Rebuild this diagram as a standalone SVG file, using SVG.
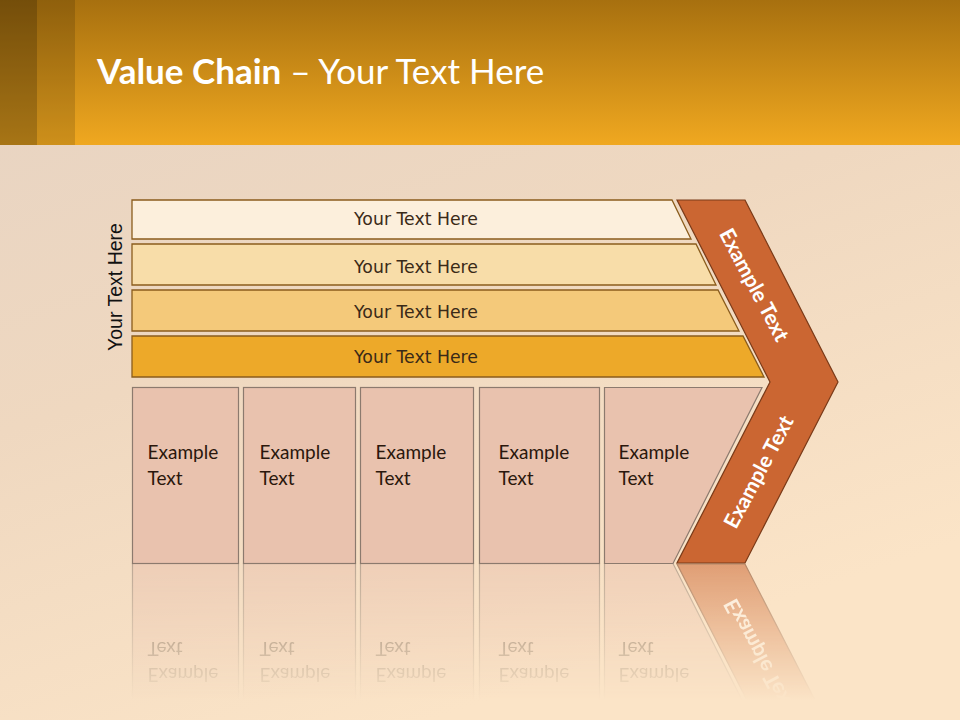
<svg xmlns="http://www.w3.org/2000/svg" xmlns:xlink="http://www.w3.org/1999/xlink" width="960" height="720" viewBox="0 0 960 720">
  <defs>
    <linearGradient id="bg" x1="0" y1="0" x2="0.45" y2="1">
      <stop offset="0" stop-color="#e6d3c3"/>
      <stop offset="0.5" stop-color="#efd8c0"/>
      <stop offset="1" stop-color="#fbe4c7"/>
    </linearGradient>
    <linearGradient id="hdr" x1="0" y1="0" x2="0" y2="1">
      <stop offset="0" stop-color="#a7700f"/>
      <stop offset="1" stop-color="#f0a820"/>
    </linearGradient>
    <linearGradient id="fadeGrad" gradientUnits="userSpaceOnUse" x1="0" y1="563" x2="0" y2="700">
      <stop offset="0" stop-color="#fff" stop-opacity="0.55"/>
      <stop offset="1" stop-color="#fff" stop-opacity="0"/>
    </linearGradient>
    <mask id="fade" maskUnits="userSpaceOnUse" x="0" y="563" width="960" height="157">
      <rect x="0" y="563" width="960" height="157" fill="url(#fadeGrad)"/>
    </mask>
    <style>
      .bar { stroke: #8a5c1c; stroke-width: 1.3; }
      .bartxt { font-family: "DejaVu Sans", Verdana, sans-serif; font-size: 17.3px; fill: #3a2a18; text-anchor: middle; }
      .box { fill: #e9c2ae; stroke: #8c7a6e; stroke-width: 1.2; }
      .boxtxt { font-family: Lato, "Open Sans", sans-serif; font-size: 19px; fill: #2a170c; }
      .chev { fill: #cb6632; stroke: #7a3a18; stroke-width: 1.2; }
      .chevtxt { font-family: Lato, "Open Sans", sans-serif; font-weight: bold; font-size: 21px; fill: #ffffff; text-anchor: middle; }
      .title { font-family: Lato, "Open Sans", sans-serif; font-size: 35px; fill: #ffffff; }
      .side { font-family: "Liberation Sans", Arial, sans-serif; font-size: 19.5px; fill: #111111; text-anchor: middle; }
    </style>
  </defs>

  <!-- background -->
  <rect x="0" y="0" width="960" height="720" fill="url(#bg)"/>

  <!-- header -->
  <g id="header">
    <rect x="0" y="0" width="960" height="145" fill="url(#hdr)"/>
    <rect x="0" y="0" width="37" height="145" fill="#000" fill-opacity="0.3"/>
    <rect x="37" y="0" width="38" height="145" fill="#000" fill-opacity="0.14"/>
    <text class="title" x="97" y="84"><tspan font-weight="bold">Value Chain</tspan> – Your Text Here</text>
  </g>

  <!-- side label -->
  <g id="side-label">
    <text class="side" transform="translate(122,287) rotate(-90)">Your Text Here</text>
  </g>

  <!-- bars -->
  <g id="bar1">
    <polygon class="bar" fill="#fcefdc" points="132,200 672,200 691,239 132,239"/>
    <text class="bartxt" x="416" y="225">Your Text Here</text>
  </g>
  <g id="bar2">
    <polygon class="bar" fill="#f8dda9" points="132,244 696,244 716,285 132,285"/>
    <text class="bartxt" x="416" y="272.5">Your Text Here</text>
  </g>
  <g id="bar3">
    <polygon class="bar" fill="#f4c97a" points="132,290 718,290 739,331 132,331"/>
    <text class="bartxt" x="416" y="317.5">Your Text Here</text>
  </g>
  <g id="bar4">
    <polygon class="bar" fill="#eda929" points="132,336 743,336 764,377 132,377"/>
    <text class="bartxt" x="416" y="362.5">Your Text Here</text>
  </g>

  <!-- boxes and chevron (reflected) -->
  <g id="lower">
    <g id="box1">
      <rect class="box" x="132.5" y="387.5" width="106" height="176"/>
      <text class="boxtxt" x="147.5" y="459">Example</text>
      <text class="boxtxt" x="147.5" y="485">Text</text>
    </g>
    <g id="box2">
      <rect class="box" x="243.5" y="387.5" width="112" height="176"/>
      <text class="boxtxt" x="259.5" y="459">Example</text>
      <text class="boxtxt" x="259.5" y="485">Text</text>
    </g>
    <g id="box3">
      <rect class="box" x="360.5" y="387.5" width="113" height="176"/>
      <text class="boxtxt" x="375.5" y="459">Example</text>
      <text class="boxtxt" x="375.5" y="485">Text</text>
    </g>
    <g id="box4">
      <rect class="box" x="479.5" y="387.5" width="120" height="176"/>
      <text class="boxtxt" x="498.5" y="459">Example</text>
      <text class="boxtxt" x="498.5" y="485">Text</text>
    </g>
    <g id="box5">
      <polygon class="box" points="604.5,387.5 762,387.5 673,563.5 604.5,563.5"/>
      <text class="boxtxt" x="618.5" y="459">Example</text>
      <text class="boxtxt" x="618.5" y="485">Text</text>
    </g>
    <g id="chevron">
      <polygon class="chev" points="677,200 745,200 838,382 745,563 677,563 770,382"/>
      <text class="chevtxt" transform="translate(754,285) rotate(62)" y="7">Example Text</text>
      <text class="chevtxt" transform="translate(759,472) rotate(-62)" y="7">Example Text</text>
    </g>
  </g>

  <!-- reflection -->
  <g id="reflection" mask="url(#fade)">
    <use xlink:href="#lower" href="#lower" transform="translate(0,1127) scale(1,-1)"/>
  </g>
</svg>
